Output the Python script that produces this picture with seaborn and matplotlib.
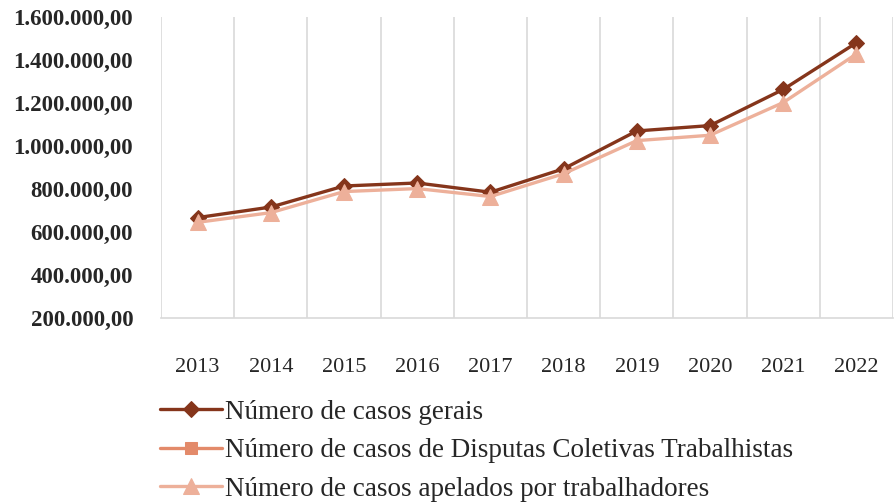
import matplotlib
matplotlib.use("Agg")
import matplotlib.pyplot as plt
import matplotlib.ticker as mticker
import seaborn as sns
import pandas as pd
import numpy as np

years = ["2013", "2014", "2015", "2016", "2017", "2018", "2019", "2020", "2021", "2022"]
casos_gerais = [667000, 716000, 814000, 828000, 785000, 894000, 1070000, 1095000, 1263000, 1480000]
casos_coletivos = [6800, 8000, 10500, 10700, 8600, 6200, 5000, 4700, 4500, 4400]
casos_trabalhadores = [645000, 690000, 788000, 802000, 765000, 871000, 1025000, 1050000, 1202000, 1428000]
series_names = ["Número de casos gerais",
                "Número de casos de Disputas Coletivas Trabalhistas",
                "Número de casos apelados por trabalhadores"]
y_ticks = [200000, 400000, 600000, 800000, 1000000, 1200000, 1400000, 1600000]

colors = ["#85351B", "#E38A6A", "#EDB09A"]
markers = ["D", "s", "^"]
msizes = [8, 9, 11]

sns.set_theme(style="white")
plt.rcParams["font.family"] = ["Liberation Serif", "DejaVu Serif"]

fig = plt.figure(figsize=(8.95, 5.04), dpi=100)
ax = fig.add_axes([161/895, 1-318/504, (893-161)/895, (318-17)/504])

x = np.arange(len(years))
for vals, name, c, m, ms in zip([casos_gerais, casos_coletivos, casos_trabalhadores],
                                series_names, colors, markers, msizes):
    df = pd.DataFrame({"x": x, "y": vals})
    sns.lineplot(data=df, x="x", y="y", ax=ax, color=c, marker=m, markersize=ms,
                 markeredgecolor=c, linewidth=2.4, label=name, zorder=3)

ax.set_xlim(-0.5, len(years) - 0.5)
ax.set_ylim(200000, 1600000)
ax.set_yticks(y_ticks)

def fmt(v, pos):
    s = f"{int(v):,}".replace(",", ".")
    return s + ",00"

ax.yaxis.set_major_formatter(mticker.FuncFormatter(fmt))
ax.set_xticks(x)
ax.set_xticklabels(years)
ax.set_xticks(np.arange(-0.5, len(years), 1.0), minor=True)
ax.grid(False)
ax.grid(True, which="minor", axis="x", color="#D9D9D9", linewidth=1.2)
ax.tick_params(axis="x", which="both", length=0, pad=29, labelsize=16)
ax.tick_params(axis="y", length=0, pad=20, labelsize=16.5)
for lab in ax.get_yticklabels():
    lab.set_fontweight("bold")
ax.set_xlabel("")
ax.set_ylabel("")
for sp in ["top", "right", "left"]:
    ax.spines[sp].set_visible(False)
ax.spines["bottom"].set_color("#D9D9D9")
ax.spines["bottom"].set_linewidth(1.2)

ax.legend_.remove()
handles, labels = ax.get_legend_handles_labels()
leg = fig.legend(handles, labels, loc="upper left", bbox_to_anchor=(149/895, 1-389/504),
                 frameon=False, fontsize=19.5, handlelength=2.3, handletextpad=0.1,
                 labelspacing=0.5, borderaxespad=0)

fig.savefig("out.png", dpi=100)
